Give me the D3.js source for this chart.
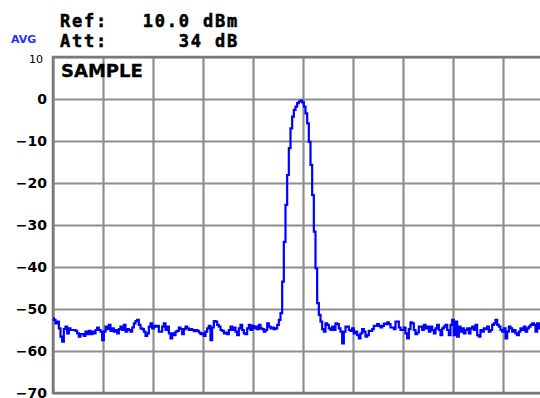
<!DOCTYPE html>
<html>
<head>
<meta charset="utf-8">
<script src="https://cdn.jsdelivr.net/npm/d3@7"></script>
<style>
  html, body { margin: 0; padding: 0; background: #fff; overflow: hidden; }
  svg { display: block; }
</style>
</head>
<body>
<svg id="chart" width="540" height="398"></svg>
<script>
// ---- data ----
const yTicks = [10, 0, -10, -20, -30, -40, -50, -60, -70];
const xDivisions = [0, 30, 60, 90, 120, 150, 180, 210, 240, 270, 300]; // bin index of grid lines
const binCount = 300;
const headerLabels = ["Ref:", "Att:"];
const headerValues = ["10.0 dBm", "34 dB"];
const modeLabel = "AVG";
const detectorLabel = "SAMPLE";
const levels = [
  -52.2,-52.6,-53.4,-53.0,-54.6,-56.6,-57.8,-54.8,-54.2,-55.8,
  -54.6,-55.0,-55.0,-55.0,-55.2,-55.8,-56.6,-56.0,-56.0,-56.4,
  -55.4,-56.0,-55.2,-56.0,-55.4,-55.8,-55.0,-54.4,-55.0,-55.4,
  -57.4,-55.4,-54.2,-54.8,-53.8,-55.2,-54.6,-55.4,-55.0,-55.8,
  -54.8,-54.2,-55.0,-53.8,-55.4,-54.8,-55.0,-55.4,-54.4,-53.4,
  -52.9,-52.6,-53.8,-54.6,-54.8,-55.4,-56.4,-55.8,-54.2,-53.4,
  -54.6,-54.0,-54.2,-54.0,-55.4,-55.4,-54.2,-53.4,-55.0,-54.2,
  -55.8,-57.0,-55.8,
  -56.2,-55.4,-55.2,-54.4,-54.8,-56.0,-54.8,-54.2,-54.6,-55.0,
  -54.8,-55.0,-55.3,-55.0,-55.2,-55.6,-56.0,-55.8,-56.4,-55.4,
  -54.6,-54.0,-57.4,-54.4,-52.9,-53.0,-53.8,-54.2,-55.0,-55.2,
  -55.8,-55.6,-56.0,-55.0,-54.2,-55.0,-54.4,-55.4,-56.2,-54.6,
  -53.8,-55.0,-55.8,-56.0,-54.6,-53.8,-55.0,-54.0,-54.6,-54.2,
  -54.8,-53.8,-54.6,-54.8,-55.4,-55.0,-53.4,-54.2,-54.6,-54.4,
  -54.8,-54.6,-53.8,-52.6,
  -51.0,-43.5,-34.0,-25.2,-18.1,-11.7,-7.0,-4.2,-2.6,-1.8,
  -1.0,-0.6,-0.4,-0.8,-1.8,-3.4,-5.8,-10.2,-15.7,-22.9,
  -31.6,-40.3,-48.6,-51.4,
  -53.0,-54.8,-55.4,-53.4,-53.8,-54.6,-55.0,-54.2,-55.0,-53.4,
  -53.6,-54.6,-55.4,-58.2,-55.4,-54.2,-54.2,-55.0,-55.2,-54.6,
  -55.8,-55.4,-56.2,-57.0,-55.8,-54.8,-55.4,-56.6,-56.2,-55.2,
  -55.2,-54.8,-54.0,-54.0,-53.6,-54.0,-54.4,-54.0,-53.5,-53.6,
  -53.2,-53.6,-54.4,-54.4,-54.8,-53.0,-53.0,-54.4,-55.0,-55.0,
  -54.4,-55.8,-57.0,-54.8,-53.2,-53.4,-55.0,-56.0,-55.6,-54.2,
  -54.2,-55.0,-53.8,-54.6,-54.2,-55.4,-54.2,-55.0,-55.8,-54.6,
  -53.8,-55.0,-56.2,-54.6,-54.2,-53.8,-55.0,-56.2,-53.8,-52.6,
  -56.2,-53.0,-56.6,-54.2,-55.4,-54.6,-55.8,-55.0,-54.6,-55.8,
  -54.6,-54.2,-55.0,-53.8,-56.2,-56.6,-55.0,-55.4,-54.6,-54.8,
  -54.2,-55.4,-55.0,-53.8,-53.4,-52.6,-53.8,-54.2,-55.0,-55.4,
  -54.6,-57.0,-55.4,-54.2,-54.6,-55.4,-55.0,-55.8,-56.2,-55.4,
  -54.6,-55.0,-54.2,-55.4,-54.6,-54.2,-53.8,-53.4,-53.8,-55.4,
  -53.4,-54.6,-54.2
];

// ---- layout ----
const plot = { left: 53, top: 57, width: 500, height: 336 };
const svg = d3.select("#chart");

const x = d3.scaleLinear().domain([0, binCount]).range([plot.left, plot.left + plot.width]);
const y = d3.scaleLinear().domain([-70, 10]).range([plot.top + plot.height, plot.top]);

const gridColor = "#8e8e8e";

// vertical grid
svg.append("g")
  .attr("transform", `translate(0,${plot.top + plot.height})`)
  .call(d3.axisBottom(x).tickValues(xDivisions).tickSize(-plot.height).tickFormat(""))
  .call(g => g.select(".domain").remove())
  .call(g => g.selectAll("line").attr("stroke", gridColor).attr("stroke-width", 2.2));

// horizontal grid + labels
const yAxis = svg.append("g")
  .attr("transform", `translate(${plot.left},0)`)
  .call(d3.axisLeft(y).tickValues(yTicks).tickSize(-plot.width).tickPadding(6))
  .call(g => g.select(".domain").remove());
yAxis.selectAll("line").attr("stroke", gridColor).attr("stroke-width", 2.2);
yAxis.selectAll("text")
  .attr("font-family", "DejaVu Sans")
  .attr("font-weight", "bold")
  .attr("font-size", 14)
  .attr("fill", "#000");
yAxis.selectAll(".tick").filter(d => d === 10).select("text")
  .attr("font-weight", "normal")
  .attr("font-size", 11)
  .attr("x", -10)
  .attr("dy", "0.5em");

// border (left, top, bottom)
svg.append("path")
  .attr("d", `M${plot.left + plot.width},${plot.top}H${plot.left}V${plot.top + plot.height}H${plot.left + plot.width}`)
  .attr("fill", "none")
  .attr("stroke", "#7a7a7a")
  .attr("stroke-width", 2.6);

// trace
const line = d3.line()
  .x((d, i) => x(i))
  .y(d => y(d))
  .curve(d3.curveStep);
svg.append("path")
  .datum(levels)
  .attr("d", line)
  .attr("fill", "none")
  .attr("stroke", "#0000ff")
  .attr("stroke-width", 2.2)
  .attr("stroke-linejoin", "miter");

// header texts
const hdr = svg.append("g")
  .attr("font-family", "DejaVu Sans Mono")
  .attr("font-weight", "bold")
  .attr("font-size", 17)
  .attr("letter-spacing", 1.8)
  .attr("fill", "#000")
  .attr("stroke", "#000")
  .attr("stroke-width", 0.5);
hdr.selectAll("text.lab").data(headerLabels).join("text")
  .attr("class", "lab")
  .attr("x", 60)
  .attr("y", (d, i) => 27 + i * 20)
  .text(d => d);
hdr.selectAll("text.val").data(headerValues).join("text")
  .attr("class", "val")
  .attr("x", 239)
  .attr("text-anchor", "end")
  .attr("y", (d, i) => 27 + i * 20)
  .text(d => d);

svg.append("text")
  .attr("x", 11)
  .attr("y", 43)
  .attr("font-family", "DejaVu Sans")
  .attr("font-weight", "bold")
  .attr("font-size", 11)
  .attr("fill", "#2030ff")
  .text(modeLabel);

svg.append("text")
  .attr("x", 61)
  .attr("y", 77)
  .attr("font-family", "DejaVu Sans")
  .attr("font-weight", "bold")
  .attr("font-size", 18)
  .attr("fill", "#000")
  .attr("stroke", "#000")
  .attr("stroke-width", 0.3)
  .text(detectorLabel);
</script>
</body>
</html>
